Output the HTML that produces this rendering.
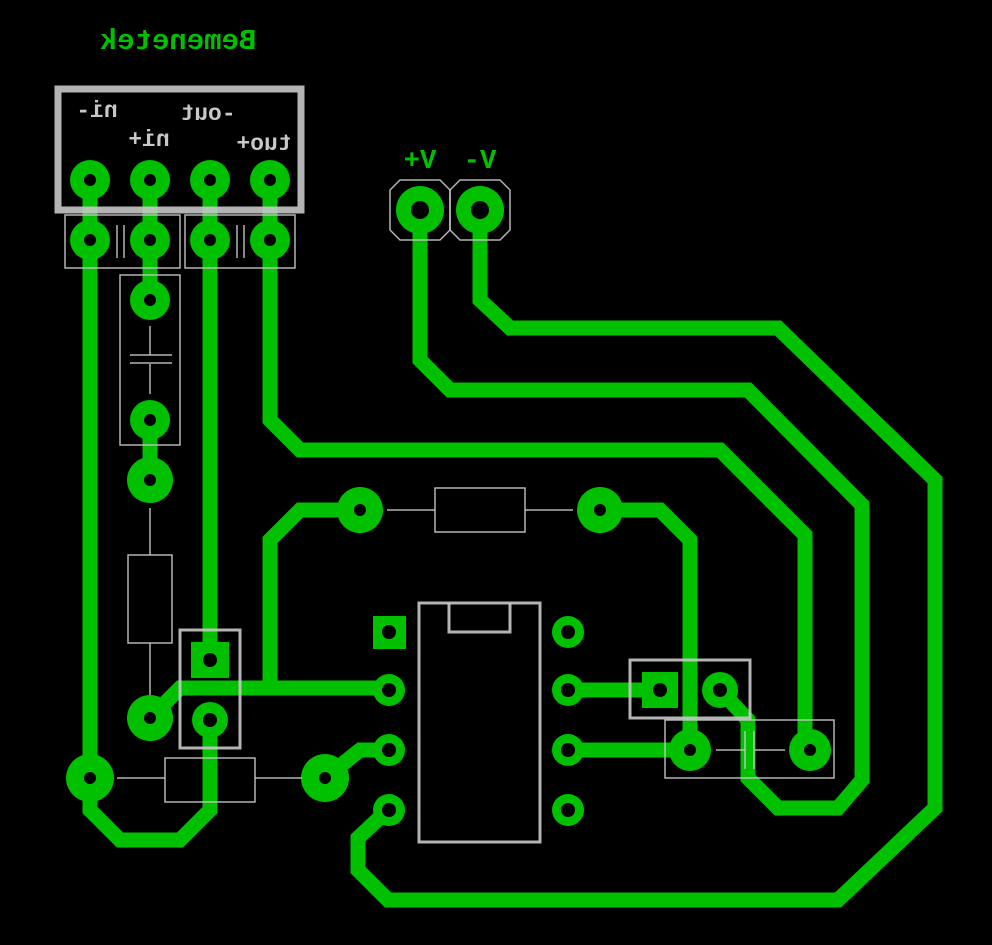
<!DOCTYPE html>
<html><head><style>html,body{margin:0;padding:0;background:#000;}svg{display:block}</style></head>
<body>
<svg width="992" height="945" viewBox="0 0 992 945" xmlns="http://www.w3.org/2000/svg">
<rect width="992" height="945" fill="#000"/>
<g fill="none" stroke="#00c000" stroke-width="15" stroke-linejoin="miter" stroke-linecap="butt">
<polyline points="90,180 90,810 120,840 180,840 210,810 210,718"/>
<polyline points="150,180 150,300"/>
<polyline points="150,420 150,480"/>
<polyline points="210,180 210,660"/>
<polyline points="150,718 180,688 390,688"/>
<polyline points="270,688 270,540 300,510 360,510"/>
<polyline points="270,180 270,420 300,450 720,450 805,535 805,750"/>
<polyline points="420,210 420,360 450,390 748,390 862,505 862,780 838,808 778,808 748,778 748,720 720,690"/>
<polyline points="480,210 480,300 510,328 778,328 935,480 935,808 838,900 388,900 358,870 358,838 390,808"/>
<polyline points="600,510 660,510 690,540 690,750"/>
<polyline points="325,778 360,750 390,750"/>
<polyline points="568,690 660,690"/>
<polyline points="568,750 690,750"/>
</g>
<g fill="#00c000">
<circle cx="90" cy="180" r="20"/><circle cx="150" cy="180" r="20"/><circle cx="210" cy="180" r="20"/><circle cx="270" cy="180" r="20"/>
<circle cx="90" cy="240" r="20"/><circle cx="150" cy="240" r="20"/><circle cx="210" cy="240" r="20"/><circle cx="270" cy="240" r="20"/>
<circle cx="150" cy="300" r="20"/><circle cx="150" cy="420" r="20"/><circle cx="150" cy="480" r="23"/>
<circle cx="150" cy="718" r="23"/><circle cx="210" cy="720" r="18"/><rect x="191" y="642" width="38" height="36"/>
<circle cx="90" cy="778" r="24"/><circle cx="325" cy="778" r="24"/>
<circle cx="360" cy="510" r="23"/><circle cx="600" cy="510" r="23"/>
<circle cx="420" cy="210" r="24"/><circle cx="480" cy="210" r="24"/>
<rect x="373" y="616" width="33" height="33"/>
<circle cx="389" cy="690" r="16"/><circle cx="389" cy="750" r="16"/><circle cx="389" cy="810" r="16"/>
<circle cx="568" cy="632" r="16"/><circle cx="568" cy="690" r="16"/><circle cx="568" cy="750" r="16"/><circle cx="568" cy="810" r="16"/>
<rect x="642" y="672" width="36" height="36"/><circle cx="720" cy="690" r="18"/>
<circle cx="690" cy="750" r="21"/><circle cx="810" cy="750" r="21"/>
</g>
<g fill="#000">
<circle cx="90" cy="180" r="6"/><circle cx="150" cy="180" r="6"/><circle cx="210" cy="180" r="6"/><circle cx="270" cy="180" r="6"/>
<circle cx="90" cy="240" r="6"/><circle cx="150" cy="240" r="6"/><circle cx="210" cy="240" r="6"/><circle cx="270" cy="240" r="6"/>
<circle cx="150" cy="300" r="6"/><circle cx="150" cy="420" r="6"/><circle cx="150" cy="480" r="6"/>
<circle cx="150" cy="718" r="6"/><circle cx="210" cy="720" r="7"/><circle cx="210" cy="660" r="7"/>
<circle cx="90" cy="778" r="6"/><circle cx="325" cy="778" r="6"/>
<circle cx="360" cy="510" r="6"/><circle cx="600" cy="510" r="6"/>
<circle cx="420" cy="210" r="9"/><circle cx="480" cy="210" r="9"/>
<circle cx="389" cy="632" r="7"/><circle cx="389" cy="690" r="7"/><circle cx="389" cy="750" r="7"/><circle cx="389" cy="810" r="7"/>
<circle cx="568" cy="632" r="7"/><circle cx="568" cy="690" r="7"/><circle cx="568" cy="750" r="7"/><circle cx="568" cy="810" r="7"/>
<circle cx="660" cy="690" r="7"/><circle cx="720" cy="690" r="7"/>
<circle cx="690" cy="750" r="6"/><circle cx="810" cy="750" r="6"/>
</g>
<g fill="none" stroke="#c8c8c8" stroke-opacity="0.9">
<rect x="58" y="89" width="243" height="121" stroke-width="7"/>
<rect x="65" y="215" width="115" height="53" stroke-width="1.5"/>
<rect x="185" y="215" width="110" height="53" stroke-width="1.5"/>
<line x1="117" y1="225" x2="117" y2="258" stroke-width="1.5"/><line x1="124" y1="225" x2="124" y2="258" stroke-width="1.5"/>
<line x1="237" y1="225" x2="237" y2="258" stroke-width="1.5"/><line x1="244" y1="225" x2="244" y2="258" stroke-width="1.5"/>
<rect x="120" y="275" width="60" height="170" stroke-width="1.5"/>
<line x1="150" y1="326" x2="150" y2="355" stroke-width="1.5"/><line x1="150" y1="364" x2="150" y2="394" stroke-width="1.5"/>
<line x1="130" y1="355" x2="172" y2="355" stroke-width="1.5"/><line x1="130" y1="363" x2="172" y2="363" stroke-width="1.5"/>
<line x1="150" y1="508" x2="150" y2="555" stroke-width="1.5"/>
<rect x="128" y="555" width="44" height="88" stroke-width="1.5"/>
<line x1="150" y1="643" x2="150" y2="695" stroke-width="1.5"/>
<rect x="180" y="630" width="60" height="118" stroke-width="3"/>
<line x1="117" y1="778" x2="165" y2="778" stroke-width="1.5"/>
<rect x="165" y="758" width="90" height="44" stroke-width="1.5"/>
<line x1="255" y1="778" x2="302" y2="778" stroke-width="1.5"/>
<line x1="387" y1="510" x2="435" y2="510" stroke-width="1.5"/>
<rect x="435" y="488" width="90" height="44" stroke-width="1.5"/>
<line x1="525" y1="510" x2="573" y2="510" stroke-width="1.5"/>
<rect x="419" y="603" width="121" height="239" stroke-width="3"/>
<polyline points="449,603 449,632 510,632 510,603" stroke-width="3"/>
<rect x="630" y="660" width="120" height="58" stroke-width="3"/>
<rect x="665" y="720" width="169" height="58" stroke-width="1.5"/>
<line x1="716" y1="750" x2="745" y2="750" stroke-width="1.5"/><line x1="755" y1="750" x2="785" y2="750" stroke-width="1.5"/>
<line x1="745" y1="731" x2="745" y2="769" stroke-width="1.5"/><line x1="754" y1="731" x2="754" y2="769" stroke-width="1.5"/>
<polygon points="400,180 440,180 450,190 450,230 440,240 400,240 390,230 390,190" stroke-width="1.5"/>
<polygon points="460,180 500,180 510,190 510,230 500,240 460,240 450,230 450,190" stroke-width="1.5"/>
</g>
<g font-family="Liberation Mono, monospace">
<text transform="translate(356,0) scale(-1,1)" x="178" y="49" text-anchor="middle" font-size="29" font-weight="bold" fill="#00c000">Bemenetek</text>
<g fill="#c8c8c8" font-size="23" font-weight="bold">
<text transform="translate(194,0) scale(-1,1)" x="97" y="117" text-anchor="middle">ni-</text>
<text transform="translate(298,0) scale(-1,1)" x="149" y="146" text-anchor="middle">ni+</text>
<text transform="translate(416,0) scale(-1,1)" x="208" y="120" text-anchor="middle">-out</text>
<text transform="translate(528,0) scale(-1,1)" x="264" y="150" text-anchor="middle">tuo+</text>
</g>
<text x="420" y="168" text-anchor="middle" font-size="27" font-weight="bold" fill="#00c000">+V</text>
<text x="480" y="168" text-anchor="middle" font-size="27" font-weight="bold" fill="#00c000">-V</text>
</g>
</svg>
</body></html>
